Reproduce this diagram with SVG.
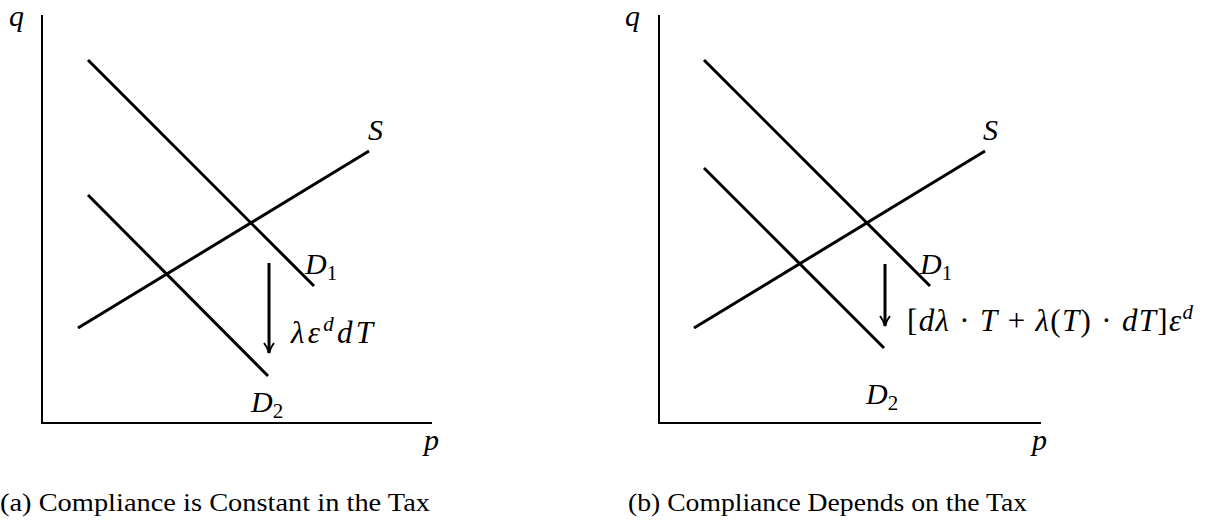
<svg xmlns="http://www.w3.org/2000/svg" width="1207" height="523" viewBox="0 0 1207 523">
<style>
.ax{stroke:#000;stroke-width:2;fill:none}
.cv{stroke:#000;stroke-width:3;fill:none}
.m{font-family:"Liberation Serif",serif;font-style:italic;font-size:30px;fill:#000}
.f{font-size:31px}
.up{font-style:normal}
.cap{font-family:"Liberation Serif",serif;font-size:26px;fill:#000}
</style>
<defs>
<marker id="ah" viewBox="0 0 12 12" refX="11" refY="6" markerWidth="12" markerHeight="12" markerUnits="userSpaceOnUse" orient="auto">
<path d="M1,1 Q6,5 11,6 Q6,7 1,11" fill="none" stroke="#000" stroke-width="2"/>
</marker>
</defs>
<rect width="1207" height="523" fill="#fff"/>
<g id="panel-a">
<g id="axes-a">
<path class="ax" d="M42,15 V423 H432"/>
<text class="m" x="9" y="26">q</text>
<text class="m" x="424" y="450">p</text>
</g>
<g id="D1-a"><line class="cv" x1="88" y1="60" x2="314" y2="286"/><text class="m" x="305" y="274">D<tspan class="up" font-size="21" dy="6">1</tspan></text></g>
<g id="D2-a"><line class="cv" x1="88" y1="195" x2="268" y2="376"/><text class="m" x="251" y="412">D<tspan class="up" font-size="21" dy="6">2</tspan></text></g>
<g id="S-a"><line class="cv" x1="78" y1="328" x2="369" y2="151"/><text class="m" x="368" y="140">S</text></g>
<g id="label-a"><text class="m f" x="291" y="343" textLength="82" lengthAdjust="spacing">λε<tspan font-size="21" dy="-12">d</tspan><tspan dy="12">dT</tspan></text></g>
<text id="cap-a" class="cap" x="0" y="511" textLength="430" lengthAdjust="spacingAndGlyphs">(a) Compliance is Constant in the Tax</text>
</g>
<g id="panel-b">
<g id="axes-b">
<path class="ax" d="M659,15 V423 H1041"/>
<text class="m" x="625" y="26">q</text>
<text class="m" x="1032" y="450">p</text>
</g>
<g id="D1-b"><line class="cv" x1="704" y1="60" x2="930" y2="286"/><text class="m" x="920" y="274">D<tspan class="up" font-size="21" dy="6">1</tspan></text></g>
<g id="D2-b"><line class="cv" x1="704" y1="168" x2="884" y2="348"/><text class="m" x="866" y="404">D<tspan class="up" font-size="21" dy="6">2</tspan></text></g>
<g id="S-b"><line class="cv" x1="694" y1="328" x2="985" y2="151"/><text class="m" x="983" y="140">S</text></g>
<g id="label-b"><text class="m f" x="907" y="331" textLength="286" lengthAdjust="spacing"><tspan class="up">[</tspan>dλ<tspan class="up"> · </tspan>T<tspan class="up"> + </tspan>λ<tspan class="up">(</tspan>T<tspan class="up">) · </tspan>dT<tspan class="up">]</tspan>ε<tspan font-size="21" dy="-12">d</tspan></text></g>
<text id="cap-b" class="cap" x="628" y="511" textLength="399" lengthAdjust="spacingAndGlyphs">(b) Compliance Depends on the Tax</text>
</g>
<g id="connectors">
<line class="cv" x1="269" y1="263" x2="269" y2="353" marker-end="url(#ah)"/>
<line class="cv" x1="885" y1="264" x2="885" y2="326" marker-end="url(#ah)"/>
</g>
</svg>
